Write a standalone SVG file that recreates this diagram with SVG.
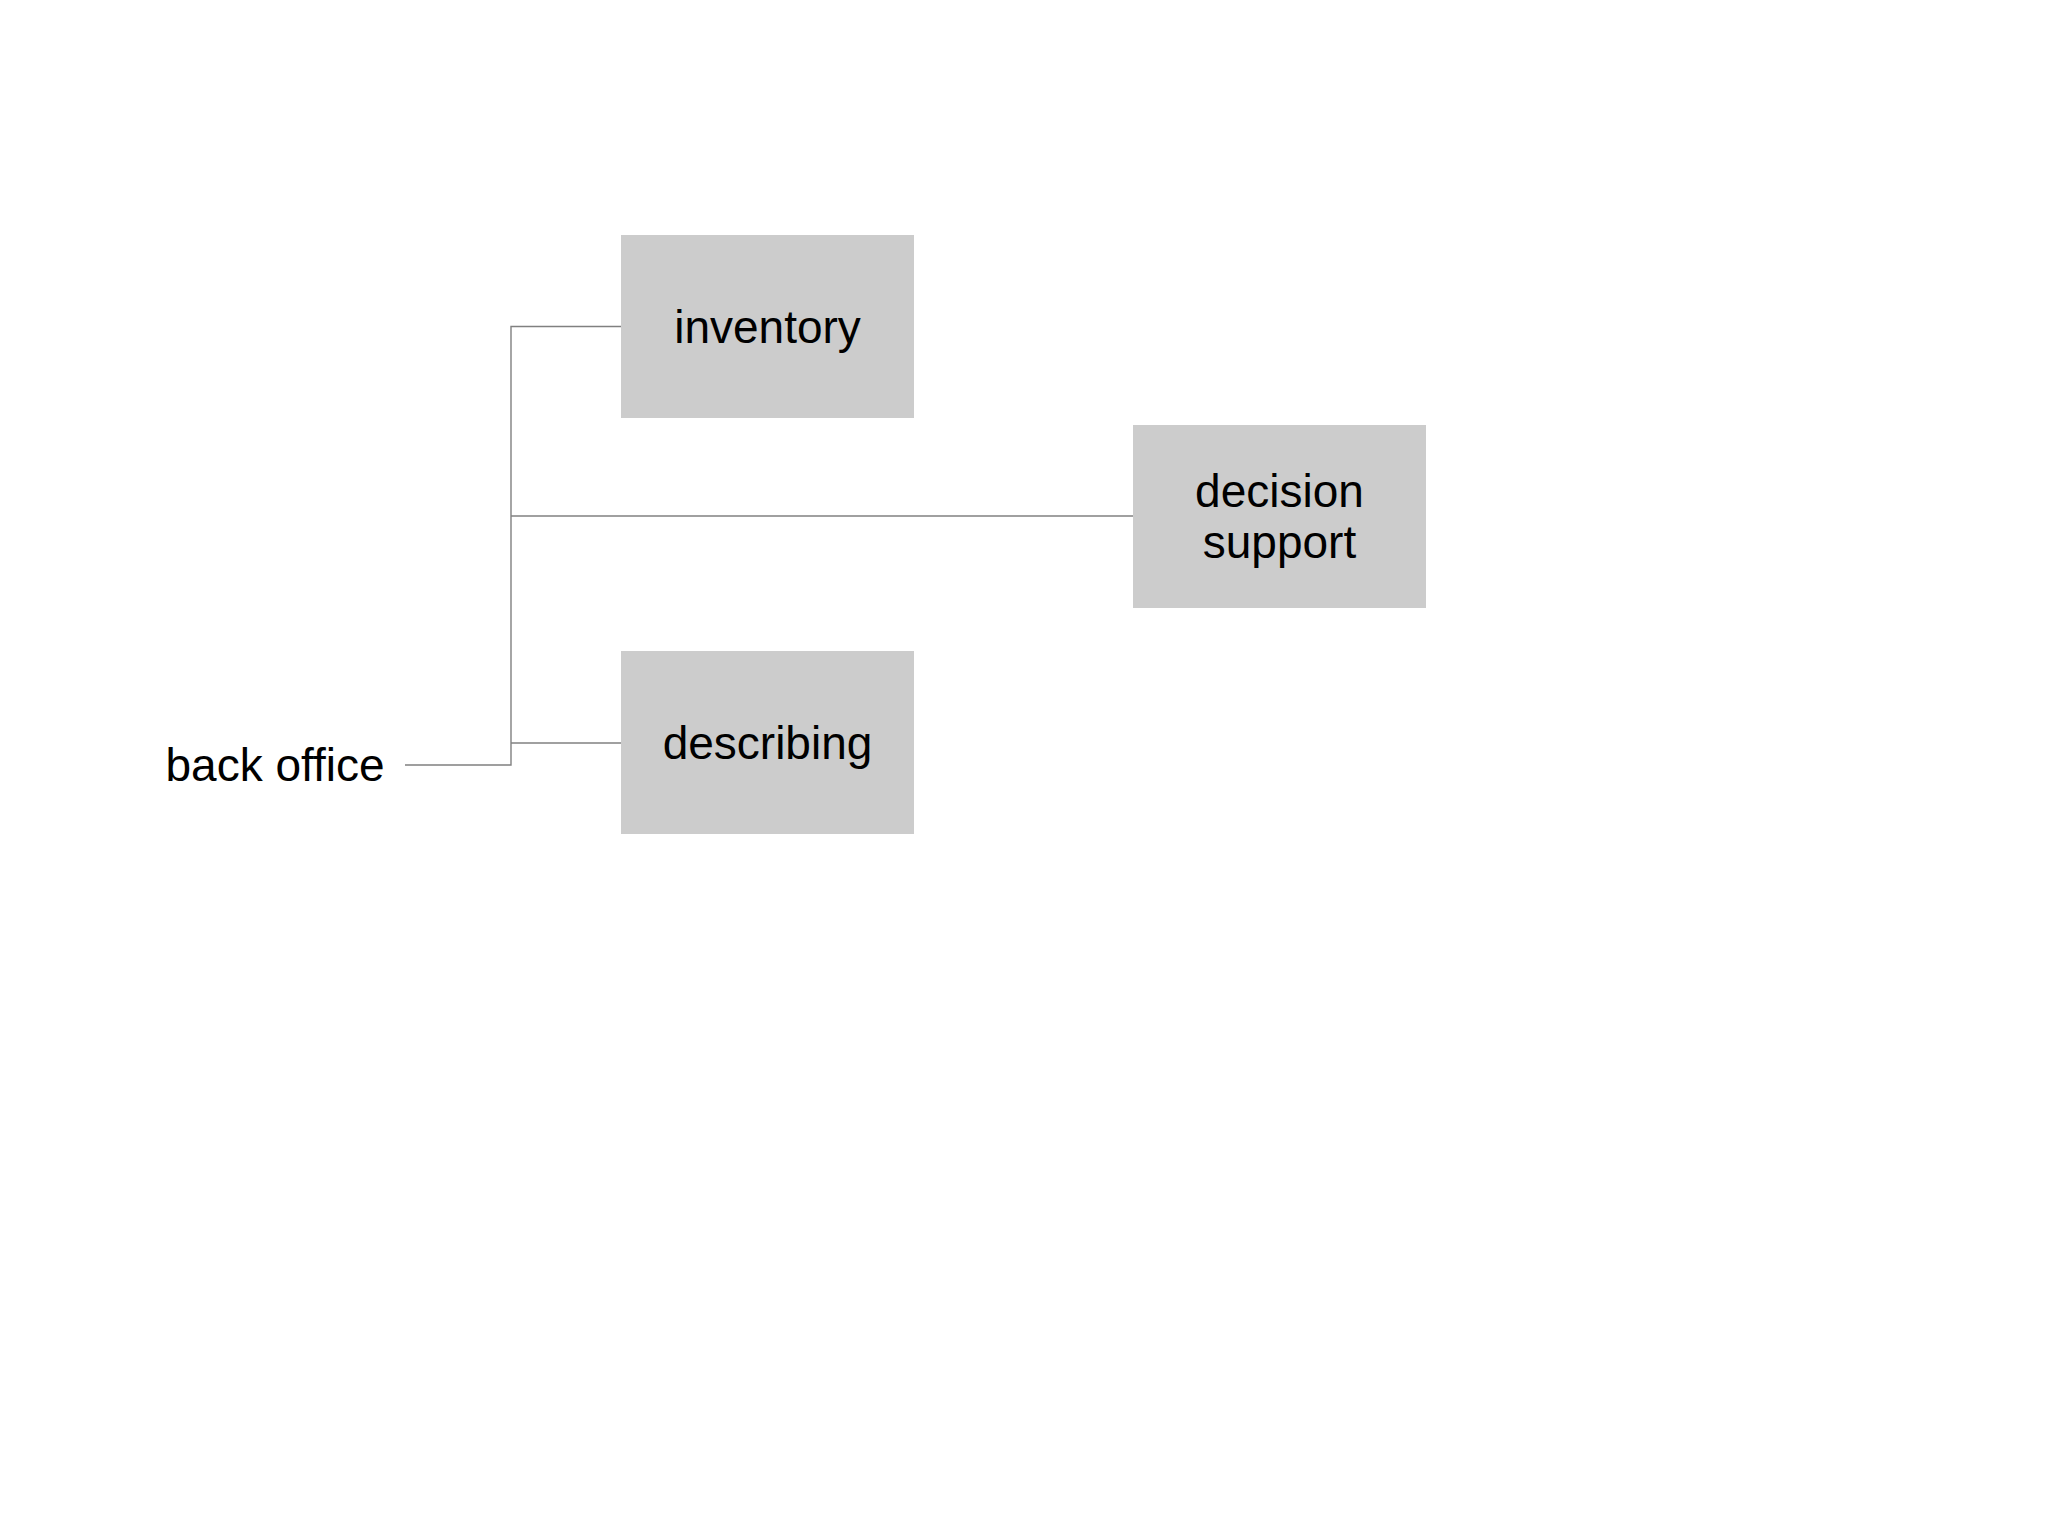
<svg xmlns="http://www.w3.org/2000/svg" width="2048" height="1535" viewBox="0 0 2048 1535">
<style>
.box{fill:#cccccc;}
.lbl{font-family:"Liberation Sans",Arial,sans-serif;font-size:46px;fill:#000000;text-anchor:middle;}
.con{fill:none;stroke:#808080;stroke-width:1.4;}
</style>
<rect width="2048" height="1535" fill="#ffffff"/>
<g id="connectors">
<polyline class="con" points="405,765 511,765 511,326.5 621,326.5"/>
<line class="con" x1="511" y1="516" x2="1133" y2="516"/>
<line class="con" x1="511" y1="743" x2="621" y2="743"/>
</g>
<g id="node-back-office">
<text class="lbl" x="275" y="781">back office</text>
</g>
<g id="node-inventory">
<rect class="box" x="621" y="235" width="293" height="183"/>
<text class="lbl" x="767.5" y="343">inventory</text>
</g>
<g id="node-decision-support">
<rect class="box" x="1133" y="425" width="293" height="183"/>
<text class="lbl" x="1279.5" y="507">decision</text>
<text class="lbl" x="1279.5" y="558">support</text>
</g>
<g id="node-describing">
<rect class="box" x="621" y="651" width="293" height="183"/>
<text class="lbl" x="767.5" y="759">describing</text>
</g>
</svg>
